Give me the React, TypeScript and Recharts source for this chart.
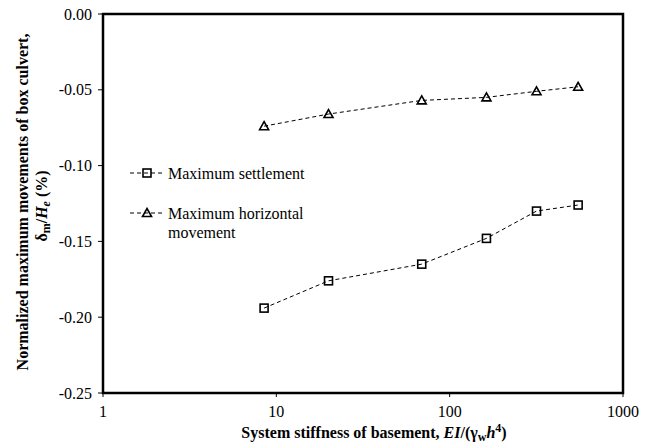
import React from "react";
import { Legend, Line, LineChart, XAxis, YAxis } from "recharts";

const stiffness = [8.5, 20, 69, 163, 317, 551];
const settlement = [-0.194, -0.176, -0.165, -0.148, -0.13, -0.126];
const horizontal = [-0.074, -0.066, -0.057, -0.055, -0.051, -0.048];
const xTicks = [1, 10, 100, 1000];
const yTicks = [-0.25, -0.2, -0.15, -0.1, -0.05, 0];
const seriesNames = ["Maximum settlement", "Maximum horizontal movement"];

const chartData = stiffness.map((x, i) => ({ x, settlement: settlement[i], horizontal: horizontal[i] }));

const FONT = "Liberation Serif, Times New Roman, serif";
const tickStyle = { fill: "#000", fontSize: 16, fontFamily: FONT };
const frame = { stroke: "#000", strokeWidth: 2 };
const W = 654;
const H = 443;
const MARGIN = { top: 14, right: 31, bottom: 0, left: 0 };
const Y_AXIS_W = 103;
const X_AXIS_H = 50;

function Square({ cx, cy }: any) {
  if (cx == null || cy == null) return null;
  return <rect x={cx - 4} y={cy - 4} width={8} height={8} fill="none" stroke="#000" strokeWidth={1.6} />;
}

function Triangle({ cx, cy }: any) {
  if (cx == null || cy == null) return null;
  return (
    <polygon
      points={`${cx},${cy - 4.5} ${cx + 4.5},${cy + 3.5} ${cx - 4.5},${cy + 3.5}`}
      fill="none"
      stroke="#000"
      strokeWidth={1.6}
    />
  );
}

function LegendBox() {
  const icon = (marker: React.ReactNode) => (
    <svg width={34} height={12} style={{ display: "block" }}>
      <line x1={0} y1={6} x2={34} y2={6} stroke="#000" strokeWidth={1} strokeDasharray="4 3" />
      {marker}
    </svg>
  );
  return (
    <div style={{ fontFamily: FONT, fontSize: 16, color: "#000", lineHeight: "19px" }}>
      <div style={{ display: "flex", alignItems: "flex-start" }}>
        <div style={{ marginTop: 3 }}>{icon(<Square cx={17} cy={6} />)}</div>
        <div style={{ marginLeft: 4 }}>{seriesNames[0]}</div>
      </div>
      <div style={{ display: "flex", alignItems: "flex-start", marginTop: 21 }}>
        <div style={{ marginTop: 3 }}>{icon(<Triangle cx={17} cy={6} />)}</div>
        <div style={{ marginLeft: 4, width: 150 }}>{seriesNames[1]}</div>
      </div>
    </div>
  );
}

// y-axis title; also draws the plot frame box
function YTitle() {
  const left = MARGIN.left + Y_AXIS_W;
  const top = MARGIN.top;
  const width = W - MARGIN.right - left;
  const height = H - X_AXIS_H - top;
  return (
    <g>
      <rect x={left} y={top} width={width} height={height} fill="none" stroke="#000" strokeWidth={2.5} />
      <g fontFamily={FONT} fontWeight="bold" fill="#000">
        <text x={28} y={202} fontSize={16} textAnchor="middle" transform="rotate(-90, 28, 202)">
          Normalized maximum movements of box culvert,
        </text>
        <text x={47} y={206} fontSize={16} textAnchor="middle" transform="rotate(-90, 47, 206)">
          <tspan>δ</tspan>
          <tspan fontSize={12} dy={3}>m</tspan>
          <tspan dy={-3}>/</tspan>
          <tspan fontStyle="italic">H</tspan>
          <tspan fontStyle="italic" fontSize={12} dy={3}>e</tspan>
          <tspan dy={-3}> (%)</tspan>
        </text>
      </g>
    </g>
  );
}

function XTitle() {
  return (
    <text x={374} y={438} fontFamily={FONT} fontWeight="bold" fontSize={16} textAnchor="middle" fill="#000">
      <tspan>System stiffness of basement, </tspan>
      <tspan fontStyle="italic">EI</tspan>
      <tspan>/(γ</tspan>
      <tspan fontSize={12} dy={3}>w</tspan>
      <tspan fontStyle="italic" dy={-3}>h</tspan>
      <tspan fontSize={12} dy={-6}>4</tspan>
      <tspan dy={6}>)</tspan>
    </text>
  );
}

export default function App() {
  return (
    <div style={{ width: W, height: H, background: "#fff" }}>
      <style>{`body{margin:0}`}</style>
      <LineChart data={chartData} width={W} height={H} margin={MARGIN}>
        <XAxis
          type="number"
          dataKey="x"
          scale="log"
          domain={[1, 1000]}
          ticks={xTicks}
          allowDataOverflow
          height={X_AXIS_H}
          tick={tickStyle}
          tickSize={4}
          tickMargin={9}
          tickLine={{ stroke: "#000", strokeWidth: 1 }}
          axisLine={frame}
          label={<XTitle />}
        />
        <YAxis
          type="number"
          domain={[-0.25, 0]}
          ticks={yTicks}
          allowDataOverflow
          width={Y_AXIS_W}
          tick={tickStyle}
          tickSize={5}
          tickMargin={6}
          tickFormatter={(v: number) => v.toFixed(2)}
          tickLine={{ stroke: "#000", strokeWidth: 1 }}
          axisLine={frame}
          label={<YTitle />}
        />
        <Legend
          layout="horizontal"
          verticalAlign="middle"
          align="center"
          content={() => <LegendBox />}
          wrapperStyle={{ left: 130, top: 164, width: 200, height: 80 }}
        />
        <Line
          dataKey="settlement"
          name={seriesNames[0]}
          stroke="#000"
          strokeWidth={1}
          strokeDasharray="4 3"
          dot={(p: any) => <Square key={`s${p.index}`} cx={p.cx} cy={p.cy} />}
          activeDot={false}
          isAnimationActive={false}
        />
        <Line
          dataKey="horizontal"
          name={seriesNames[1]}
          stroke="#000"
          strokeWidth={1}
          strokeDasharray="4 3"
          dot={(p: any) => <Triangle key={`t${p.index}`} cx={p.cx} cy={p.cy} />}
          activeDot={false}
          isAnimationActive={false}
        />
      </LineChart>
    </div>
  );
}
